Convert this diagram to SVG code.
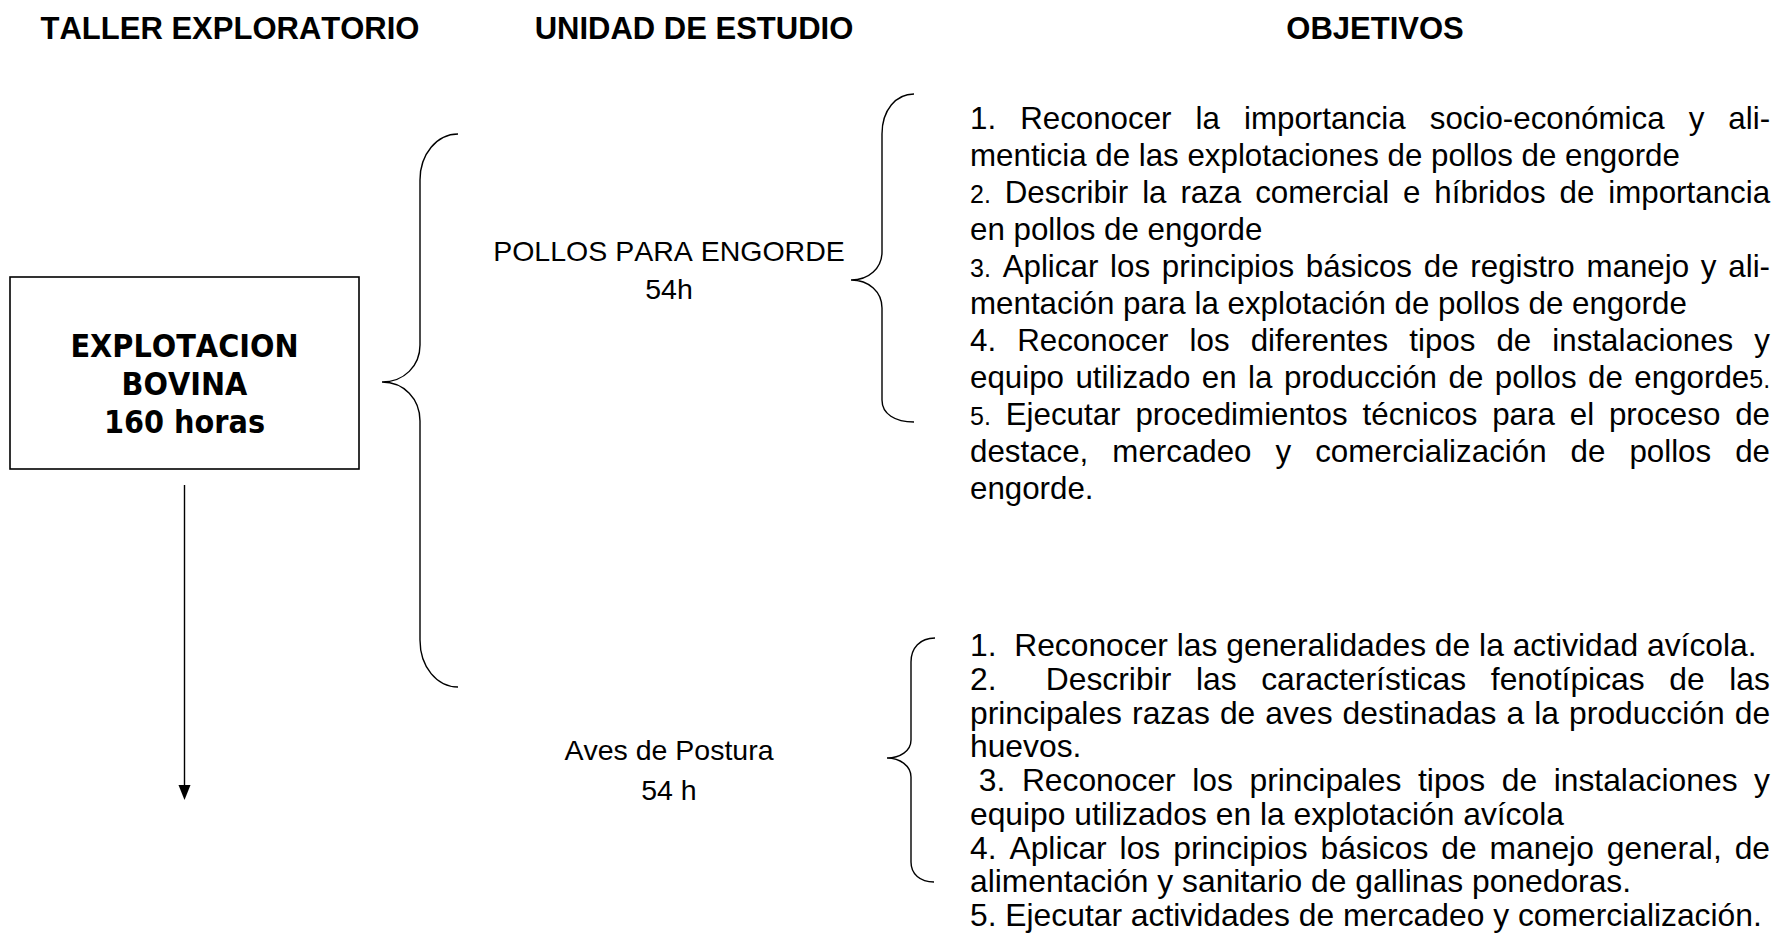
<svg xmlns="http://www.w3.org/2000/svg" width="1780" height="940" viewBox="0 0 1780 940">
<style>
text{font-family:"Liberation Sans",Arial,sans-serif;fill:#000;font-kerning:none}
.h{font-size:31px;font-weight:bold;text-anchor:middle}
.b{font-family:"DejaVu Sans",Verdana,sans-serif;font-size:32px;font-weight:bold;text-anchor:middle}
.u{font-size:28.5px;text-anchor:middle}
.p{font-size:31.3px}
.a{font-size:31.8px}
.n{font-size:25px}
.ln{fill:none;stroke:#000;stroke-width:1.4}
</style>
<rect width="1780" height="940" fill="#fff"/>
<g id="headers">
<text class="h" x="230" y="39">TALLER EXPLORATORIO</text>
<text class="h" x="694" y="39">UNIDAD DE ESTUDIO</text>
<text class="h" x="1375" y="39">OBJETIVOS</text>
</g>
<g id="node-explotacion">
<rect x="10" y="277" width="349" height="192" fill="#fff" stroke="#000" stroke-width="1.6"/>
<g transform="translate(184.5,0) scale(0.9,1)">
<text class="b" x="0" y="357">EXPLOTACION</text>
<text class="b" x="0" y="395">BOVINA</text>
<text class="b" x="0" y="433">160 horas</text>
</g>
</g>
<g id="node-pollos">
<text class="u" x="669" y="261">POLLOS PARA ENGORDE</text>
<text class="u" x="669" y="299">54h</text>
</g>
<g id="node-aves">
<text class="u" x="669" y="760">Aves de Postura</text>
<text class="u" x="669" y="800">54 h</text>
</g>
<g id="objetivos-pollos">
<text class="p" x="970" y="129" style="word-spacing:15.35px">1. Reconocer la importancia socio-económica y ali-</text>
<text class="p" x="970" y="166">menticia de las explotaciones de pollos de engorde</text>
<text class="p" x="970" y="203" style="word-spacing:5.21px"><tspan class="n">2.</tspan> Describir la raza comercial e híbridos de importancia</text>
<text class="p" x="970" y="240">en pollos de engorde</text>
<text class="p" x="970" y="277" style="word-spacing:3.08px"><tspan class="n">3.</tspan> Aplicar los principios básicos de registro manejo y ali-</text>
<text class="p" x="970" y="314">mentación para la explotación de pollos de engorde</text>
<text class="p" x="970" y="351" style="word-spacing:12.39px">4. Reconocer los diferentes tipos de instalaciones y</text>
<text class="p" x="970" y="388" style="word-spacing:2.79px">equipo utilizado en la producción de pollos de engorde<tspan class="n">5.</tspan></text>
<text class="p" x="970" y="425" style="word-spacing:6.18px"><tspan class="n">5.</tspan> Ejecutar procedimientos técnicos para el proceso de</text>
<text class="p" x="970" y="462" style="word-spacing:15.33px">destace, mercadeo y comercialización de pollos de</text>
<text class="p" x="970" y="499">engorde.</text>
</g>
<g id="objetivos-aves">
<text class="a" x="970" y="656" xml:space="preserve">1.  Reconocer las generalidades de la actividad avícola.</text>
<text class="a" x="970" y="689.75" xml:space="preserve" style="word-spacing:15.82px">2.  Describir las características fenotípicas de las</text>
<text class="a" x="970" y="723.5" style="word-spacing:1.25px">principales razas de aves destinadas a la producción de</text>
<text class="a" x="970" y="757.25">huevos.</text>
<text class="a" x="978.8" y="791" style="word-spacing:7.74px">3. Reconocer los principales tipos de instalaciones y</text>
<text class="a" x="970" y="824.75">equipo utilizados en la explotación avícola</text>
<text class="a" x="970" y="858.5" style="word-spacing:4.12px">4. Aplicar los principios básicos de manejo general, de</text>
<text class="a" x="970" y="892.25">alimentación y sanitario de gallinas ponedoras.</text>
<text class="a" x="970" y="926">5. Ejecutar actividades de mercadeo y comercialización.</text>
</g>
<g id="connectors">
<path class="ln" d="M458,134 C437,134 420,154 420,180 L420,345 C420,366 404,382 382,382 C404,382 420,399 420,421 L420,640 C420,667 437,687 458,687"/>
<path class="ln" d="M914,94 C896,94 882,110 882,134 L882,252 C882,268 869,280 851,280 C869,280 882,292 882,308 L882,400 C882,414 895,422 914,422"/>
<path class="ln" d="M935,638 C920,638 911,648 911,662 L911,740 C911,751 900,758 887,758 C900,758 911,766 911,777 L911,862 C911,874 920,882 934,882"/>
<line class="ln" x1="184.5" y1="485" x2="184.5" y2="787"/>
<polygon points="184.5,800 178.5,785 190.5,785" fill="#000"/>
</g>
</svg>
